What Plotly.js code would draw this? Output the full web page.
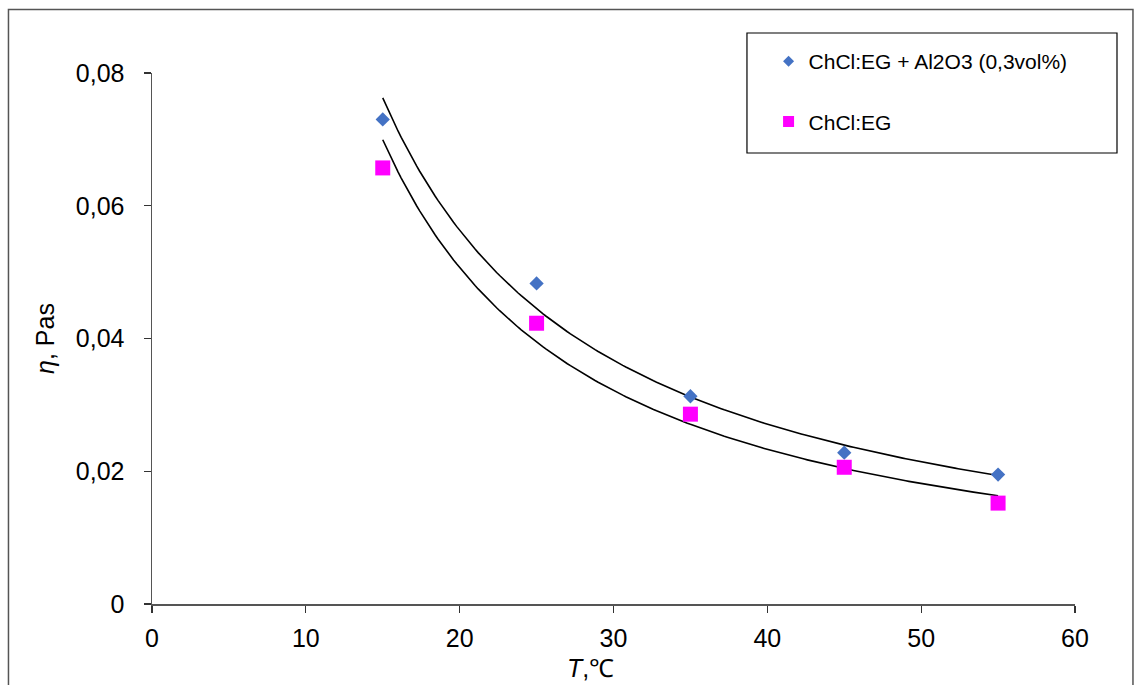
<!DOCTYPE html>
<html>
<head>
<meta charset="utf-8">
<script src="https://cdn.plot.ly/plotly-3.0.1.min.js"></script>
<style>
  html, body { margin: 0; padding: 0; background: #fff; }
  #chart { width: 1134px; height: 685px; }
</style>
</head>
<body>
<div id="chart"></div>
<script>
// Temperature, °C
const temperature = [15, 25, 35, 45, 55];
// Viscosity, Pa·s
const etaNanofluid = [0.0730, 0.0483, 0.0313, 0.0228, 0.0195]; // ChCl:EG + Al2O3 (0,3vol%)
const etaBase = [0.0657, 0.0423, 0.0286, 0.0206, 0.0152];      // ChCl:EG
const seriesNames = ['ChCl:EG + Al2O3 (0,3vol%)', 'ChCl:EG'];
const xTicks = [0, 10, 20, 30, 40, 50, 60];
const yTicks = [0, 0.02, 0.04, 0.06, 0.08];
const yTickLabels = ['0', '0,02', '0,04', '0,06', '0,08'];
const xTitle = '<i>T</i>,\u2103';
const yTitle = '<i>\u03B7</i>, Pas';

// Power-law trendline (least squares in log-log space), as in the spreadsheet chart
function powerFit(xs, ys) {
  const lx = xs.map(Math.log), ly = ys.map(Math.log);
  const n = xs.length;
  const mx = lx.reduce((a, b) => a + b, 0) / n;
  const my = ly.reduce((a, b) => a + b, 0) / n;
  let sxy = 0, sxx = 0;
  for (let i = 0; i < n; i++) { sxy += (lx[i] - mx) * (ly[i] - my); sxx += (lx[i] - mx) ** 2; }
  const b = sxy / sxx;
  const a = Math.exp(my - b * mx);
  const x0 = Math.min(...xs), x1 = Math.max(...xs);
  const fx = [], fy = [];
  for (let i = 0; i <= 200; i++) {
    const x = x0 + (x1 - x0) * i / 200;
    fx.push(x); fy.push(a * Math.pow(x, b));
  }
  return { x: fx, y: fy };
}
const fitN = powerFit(temperature, etaNanofluid);
const fitB = powerFit(temperature, etaBase);

const blue = '#4472C4';
const magenta = '#FF00FF';

const traces = [
  { x: fitN.x, y: fitN.y, mode: 'lines', line: { color: '#000', width: 1.6 }, showlegend: false, hoverinfo: 'skip' },
  { x: fitB.x, y: fitB.y, mode: 'lines', line: { color: '#000', width: 1.6 }, showlegend: false, hoverinfo: 'skip' },
  { x: temperature, y: etaNanofluid, mode: 'markers', name: seriesNames[0], showlegend: false,
    marker: { symbol: 'diamond', size: 11, color: blue } },
  { x: temperature, y: etaBase, mode: 'markers', name: seriesNames[1], showlegend: false,
    marker: { symbol: 'square', size: 15, color: magenta } },
  // legend entries (smaller markers as in the reference legend)
  { x: [null], y: [null], mode: 'markers', name: seriesNames[0], legendgroup: 'a',
    marker: { symbol: 'diamond', size: 8.5, color: blue } },
  { x: [null], y: [null], mode: 'markers', name: seriesNames[1], legendgroup: 'b',
    marker: { symbol: 'square', size: 11, color: magenta } }
];

const axisFont = { family: 'Liberation Sans, Arial, sans-serif', size: 25, color: '#000' };

const layout = {
  width: 1134, height: 685,
  margin: { l: 152, r: 59, t: 73, b: 81 },
  paper_bgcolor: '#fff', plot_bgcolor: '#fff',
  font: axisFont,
  separators: ', ',
  showlegend: true,
  legend: {
    x: 0.668, y: 1.06, xanchor: 'left', yanchor: 'top',
    bgcolor: 'rgba(0,0,0,0)', borderwidth: 0,
    font: { family: 'Liberation Sans, Arial, sans-serif', size: 21, color: '#000' },
    tracegroupgap: 30, itemsizing: 'trace'
  },
  xaxis: {
    range: [0, 60], tickvals: xTicks, ticktext: xTicks.map(String),
    showgrid: false, zeroline: false, showline: true, linecolor: '#555', linewidth: 1.5,
    ticks: 'outside', ticklen: 7, tickcolor: '#333', tickwidth: 1.2,
    tickfont: axisFont, ticklabelstandoff: 4
  },
  yaxis: {
    range: [0, 0.08], tickvals: yTicks, ticktext: yTickLabels,
    showgrid: false, zeroline: false, showline: true, linecolor: '#555', linewidth: 1.5,
    ticks: 'outside', ticklen: 7, tickcolor: '#333', tickwidth: 1.2,
    tickfont: axisFont, ticklabelstandoff: 14,
    title: { text: yTitle, font: axisFont, standoff: 14 }
  },
  annotations: [
    { text: xTitle, xref: 'paper', yref: 'paper', x: 0.4756, y: -0.1205,
      xanchor: 'center', yanchor: 'middle', showarrow: false, font: axisFont }
  ],
  shapes: [
    // legend box
    { type: 'rect', xref: 'paper', yref: 'paper', x0: 0.6446, x1: 1.0455, y0: 0.8493, y1: 1.0753,
      line: { color: '#000', width: 1.2 }, fillcolor: 'rgba(0,0,0,0)' },
    // outer chart border
    { type: 'rect', xref: 'paper', yref: 'paper', x0: -0.1555, x1: 1.0628, y0: -0.2, y1: 1.1196,
      line: { color: '#555', width: 1.5 }, fillcolor: 'rgba(0,0,0,0)' }
  ]
};

Plotly.newPlot('chart', traces, layout, { displayModeBar: false, staticPlot: true });
</script>
</body>
</html>
